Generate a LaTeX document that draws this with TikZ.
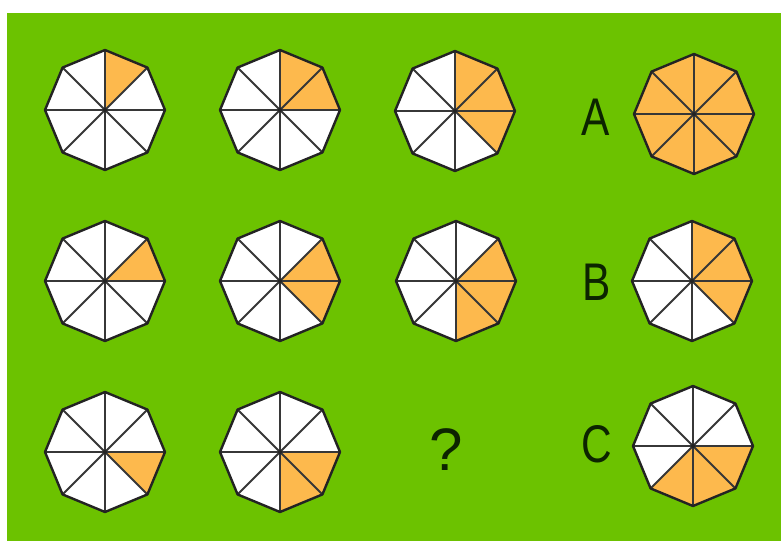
\documentclass[tikz,border=0pt]{standalone}
\usepackage{fontspec}
\setmainfont{Liberation Sans}
\definecolor{bggreen}{RGB}{108,194,0}
\definecolor{slice}{RGB}{253,185,77}
\definecolor{edge}{RGB}{35,35,35}
\definecolor{spk}{RGB}{55,55,55}
\definecolor{ink}{RGB}{12,36,0}
\tikzset{
  rim/.style={draw=edge, line width=2.4pt, line join=round},
  spoke/.style={draw=spk, line width=2pt},
  lbl/.style={anchor=base, inner sep=0pt, text=ink, font=\fontsize{53}{53}\selectfont, xscale=0.8},
  qmark/.style={anchor=base, inner sep=0pt, text=ink, font=\fontsize{60}{60}\selectfont}
}
% #1 x, #2 y, #3 start angle, #4 number of orange sectors
\newcommand{\octagonpic}[4]{%
  \begin{scope}[shift={(#1,#2)}]
    \fill[white] (0:60) \foreach \k in {1,...,7}{ -- (\k*45:60)} -- cycle;
    \ifnum#4>0
      \foreach \i in {1,...,#4}{%
        \fill[slice] (0,0) -- ({#3-(\i-1)*45}:60) -- ({#3-\i*45}:60) -- cycle;}
    \fi
    \foreach \k in {0,...,3}{\draw[spoke] (\k*45:60) -- (\k*45+180:60);}
    \fill[edge] (0,0) circle (2);
    \draw[rim] (0:60) \foreach \k in {1,...,7}{ -- (\k*45:60)} -- cycle;
  \end{scope}}
\begin{document}
\begin{tikzpicture}[x=1pt,y=1pt]
  \useasboundingbox (0,0) rectangle (781,-541);
  \fill[white] (0,0) rectangle (781,-541);
  \fill[bggreen] (7,-13) rectangle (781,-541);
  % row 1
  \octagonpic{105}{-110}{90}{1}
  \octagonpic{280}{-110}{90}{2}
  \octagonpic{455}{-111}{90}{3}
  % row 2
  \octagonpic{105}{-281}{45}{1}
  \octagonpic{280}{-281}{45}{2}
  \octagonpic{456}{-281}{45}{3}
  % row 3
  \octagonpic{105}{-452}{0}{1}
  \octagonpic{280}{-452}{0}{2}
  \node[qmark] (q) at (446,-470) {?};
  % answers
  \node[lbl] (A) at (596,-135) {A};
  \octagonpic{694}{-114}{90}{8}
  \node[lbl] (B) at (597,-300) {B};
  \octagonpic{692}{-281}{90}{3}
  \node[lbl] (C) at (597,-462) {C};
  \octagonpic{693}{-446}{0}{3}
\end{tikzpicture}
\end{document}
